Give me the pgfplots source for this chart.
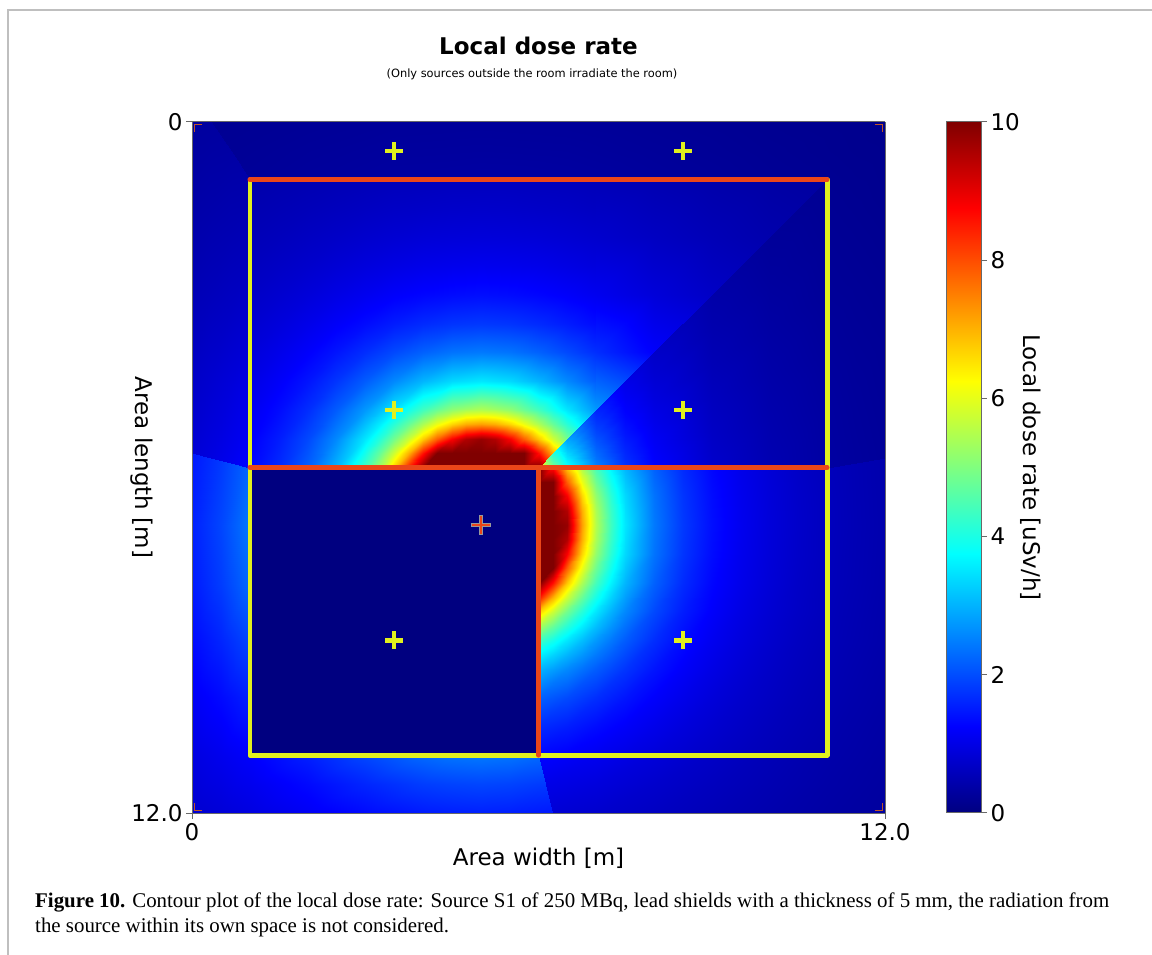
\documentclass[border=0pt]{standalone}
\usepackage{pgfplots}
\usepackage{fontspec}
\setmainfont{DejaVu Sans}
\newfontfamily\capfont{Liberation Serif}
\pgfplotsset{compat=1.18}
\definecolor{wallY}{RGB}{225,240,30}
\definecolor{wallR}{RGB}{235,70,25}
\definecolor{axgray}{RGB}{105,105,105}
\definecolor{cornerc}{RGB}{190,85,40}
\pgfplotsset{hm/.style={surf,shader=interp,point meta=explicit,mesh/cols=#1}}
\newcommand{\fs}{\fontsize{23}{27}\selectfont}
\begin{document}
\begin{tikzpicture}
\useasboundingbox (0,0) rectangle (1152pt,955pt);
\draw[black!25,line width=2pt] (8pt,0pt)--(8pt,945pt)--(1152pt,945pt);
\begin{axis}[at={(192pt,142pt)},anchor=south west,scale only axis,width=693pt,height=691pt,
 view={0}{90},y dir=reverse,xmin=0,xmax=12,ymin=0,ymax=12,zmin=-1,zmax=1,
 colormap/jet,point meta min=0,point meta max=10,axis on top,
 xtick={0,12},xticklabels={0,12.0},ytick={0,12},yticklabels={0,12.0},ztick=\empty,
 xtick pos=bottom,ytick pos=left,
 tick align=outside,major tick length=6pt,
 tick style={draw=axgray,line width=1pt},axis line style={draw=axgray,line width=1pt},
 tick label style={font=\fs},label style={font=\fs},
 xticklabel style={yshift=-1pt},
 title={\bfseries Local dose rate},title style={font=\fs,at={(0.5,1)},anchor=center,yshift=70pt},
 xlabel={Area width [m]},xlabel style={at={(0.5,0)},anchor=center,yshift=-45pt},
 ylabel={Area length [m]},ylabel style={at={(0,0.5)},anchor=center,rotate=180,yshift=-50pt},
]
% --- top room, one lead shield: fine part
\addplot3[hm=17] table[x index=0,y index=1,z expr=0,meta index=2]{
3 5 2.75
3.25 5 3.12
3.5 5 3.52
3.75 5 3.96
4 5 4.4
4.25 5 4.82
4.5 5 5.18
4.75 5 5.42
5 5 5.5
5.25 5 5.42
5.5 5 5.18
5.75 5 4.82
6 5 4.4
6.25 5 3.96
6.5 5 3.52
6.75 5 3.12
7 5 2.75
3 5.25 3.12
3.25 5.25 3.59
3.5 5.25 4.14
3.75 5.25 4.76
4 5.25 5.42
4.25 5.25 6.07
4.5 5.25 6.64
4.75 5.25 7.04
5 5.25 7.18
5.25 5.25 7.04
5.5 5.25 6.64
5.75 5.25 6.07
6 5.25 5.42
6.25 5.25 4.76
6.5 5.25 4.14
6.75 5.25 3.59
7 5.25 3.12
3 5.5 3.52
3.25 5.5 4.14
3.5 5.5 4.89
3.75 5.5 5.77
4 5.5 6.77
4.25 5.5 7.82
4.5 5.5 8.8
4.75 5.5 9.52
5 5.5 9.78
5.25 5.5 9.52
5.5 5.5 8.8
5.75 5.5 7.82
6 5.5 6.77
6.25 5.5 5.77
6.5 5.5 4.89
6.75 5.5 4.14
7 5.5 3.52
3 5.75 3.96
3.25 5.75 4.76
3.5 5.75 5.77
3.75 5.75 7.04
4 5.75 8.59
4.25 5.75 10
4.5 5.75 10
4.75 5.75 10
5 5.75 10
5.25 5.75 10
5.5 5.75 10
5.75 5.75 10
6 5.75 8.59
6.25 5.75 7.04
6.5 5.75 5.77
6.75 5.75 4.76
7 5.75 3.96
3 6 4.4
3.25 6 5.42
3.5 6 6.77
3.75 6 8.59
4 6 10
4.25 6 10
4.5 6 10
4.75 6 10
5 6 10
5.25 6 10
5.5 6 10
5.75 6 10
6 6 10
6.25 6 8.59
6.5 6 6.77
6.75 6 5.42
7 6 4.4
};
\addplot3[hm=5] table[x index=0,y index=1,z expr=0,meta index=2]{
1 5 1.1
1.5 5 1.35
2 5 1.69
2.5 5 2.15
3 5 2.75
1 5.5 1.21
1.5 5.5 1.52
2 5.5 1.96
2.5 5.5 2.59
3 5.5 3.52
1 6 1.29
1.5 6 1.66
2 6 2.2
2.5 6 3.03
3 6 4.4
};
\addplot3[hm=13] table[x index=0,y index=1,z expr=0,meta index=2]{
1 1 .42
1.5 1 .46
2 1 .49
2.5 1 .52
3 1 .55
3.5 1 .58
4 1 .59
4.5 1 .61
5 1 .61
5.5 1 .61
6 1 .59
6.5 1 .58
7 1 .55
1 1.5 .48
1.5 1.5 .52
2 1.5 .56
2.5 1.5 .6
3 1.5 .64
3.5 1.5 .68
4 1.5 .7
4.5 1.5 .72
5 1.5 .73
5.5 1.5 .72
6 1.5 .7
6.5 1.5 .68
7 1.5 .64
1 2 .54
1.5 2 .59
2 2 .65
2.5 2 .7
3 2 .76
3.5 2 .81
4 2 .85
4.5 2 .87
5 2 .88
5.5 2 .87
6 2 .85
6.5 2 .81
7 2 .76
1 2.5 .61
1.5 2.5 .68
2 2.5 .75
2.5 2.5 .83
3 2.5 .91
3.5 2.5 .98
4 2.5 1.04
4.5 2.5 1.07
5 2.5 1.09
5.5 2.5 1.07
6 2.5 1.04
6.5 2.5 .98
7 2.5 .91
1 3 .69
1.5 3 .78
2 3 .88
2.5 3 .99
3 3 1.1
3.5 3 1.21
4 3 1.29
4.5 3 1.35
5 3 1.38
5.5 3 1.35
6 3 1.29
6.5 3 1.21
7 3 1.1
1 3.5 .78
1.5 3.5 .9
2 3.5 1.04
2.5 3.5 1.19
3 3.5 1.35
3.5 3.5 1.52
4 3.5 1.66
4.5 3.5 1.76
5 3.5 1.8
5.5 3.5 1.76
6 3.5 1.66
6.5 3.5 1.52
7 3.5 1.35
1 4 .88
1.5 4 1.04
2 4 1.22
2.5 4 1.44
3 4 1.69
3.5 4 1.96
4 4 2.2
4.5 4 2.38
5 4 2.44
5.5 4 2.38
6 4 2.2
6.5 4 1.96
7 4 1.69
1 4.5 .99
1.5 4.5 1.19
2 4.5 1.44
2.5 4.5 1.76
3 4.5 2.15
3.5 4.5 2.59
4 4.5 3.03
4.5 4.5 3.38
5 4.5 3.52
5.5 4.5 3.38
6 4.5 3.03
6.5 4.5 2.59
7 4.5 2.15
1 5 1.1
1.5 5 1.35
2 5 1.69
2.5 5 2.15
3 5 2.75
3.5 5 3.52
4 5 4.4
4.5 5 5.18
5 5 5.5
5.5 5 5.18
6 5 4.4
6.5 5 3.52
7 5 2.75
};
\addplot3[hm=5] table[x index=0,y index=1,z expr=0,meta index=2]{
7 1 .55
8 1 .49
9 1 .42
10 1 .36
11 1 .31
7 2 .76
8 2 .65
9 2 .54
10 2 .44
11 2 .36
7 3 1.1
8 3 .88
9 3 .69
10 3 .54
11 3 .42
7 4 1.69
8 4 1.22
9 4 .88
10 4 .65
11 4 .49
7 5 2.75
8 5 1.69
9 5 1.1
10 5 .76
11 5 .55
};
% --- wedge behind two shields
\addplot3[hm=9] table[x index=0,y index=1,z expr=0,meta index=2]{
6 6 6.35
6.25 6 4.96
6.5 6 3.91
7 6 2.54
7.5 6 1.75
8 6 1.27
9 6 .75
10 6 .49
11 6 .34
6 6 6.35
6.25 5.95 4.77
6.5 5.9 3.67
7 5.8 2.33
7.5 5.7 1.6
8 5.6 1.16
9 5.4 .68
10 5.2 .45
11 5 .32
6 6 6.35
6.25 5.9 4.58
6.5 5.8 3.44
7 5.6 2.13
7.5 5.4 1.44
8 5.2 1.04
9 4.8 .61
10 4.4 .4
11 4 .28
6 6 6.35
6.25 5.85 4.41
6.5 5.7 3.22
7 5.4 1.94
7.5 5.1 1.29
8 4.8 .92
9 4.2 .53
10 3.6 .35
11 3 .24
6 6 6.35
6.25 5.8 4.23
6.5 5.6 3.02
7 5.2 1.75
7.5 4.8 1.15
8 4.4 .81
9 3.6 .46
10 2.8 .3
11 2 .21
6 6 6.35
6.25 5.75 4.07
6.5 5.5 2.82
7 5 1.59
7.5 4.5 1.02
8 4 .71
9 3 .4
10 2 .25
11 1 .18
};
% --- lower right room: fine part
\addplot3[hm=7] table[x index=0,y index=1,z expr=0,meta index=2]{
6 6 10
6.25 6 8.59
6.5 6 6.77
6.75 6 5.42
7 6 4.4
7.25 6 3.63
7.5 6 3.03
6 6.25 10
6.25 6.25 10
6.5 6.25 7.82
6.75 6.25 6.07
7 6.25 4.82
7.25 6.25 3.91
7.5 6.25 3.23
6 6.5 10
6.25 6.5 10
6.5 6.5 8.8
6.75 6.5 6.64
7 6.5 5.18
7.25 6.5 4.14
7.5 6.5 3.38
6 6.75 10
6.25 6.75 10
6.5 6.75 9.52
6.75 6.75 7.04
7 6.75 5.42
7.25 6.75 4.29
7.5 6.75 3.49
6 7 10
6.25 7 10
6.5 7 9.78
6.75 7 7.18
7 7 5.5
7.25 7 4.35
7.5 7 3.52
6 7.25 10
6.25 7.25 10
6.5 7.25 9.52
6.75 7.25 7.04
7 7.25 5.42
7.25 7.25 4.29
7.5 7.25 3.49
6 7.5 10
6.25 7.5 10
6.5 7.5 8.8
6.75 7.5 6.64
7 7.5 5.18
7.25 7.5 4.14
7.5 7.5 3.38
6 7.75 10
6.25 7.75 10
6.5 7.75 7.82
6.75 7.75 6.07
7 7.75 4.82
7.25 7.75 3.91
7.5 7.75 3.23
6 8 10
6.25 8 8.59
6.5 8 6.77
6.75 8 5.42
7 8 4.4
7.25 8 3.63
7.5 8 3.03
6 8.25 8.59
6.25 8.25 7.04
6.5 8.25 5.77
6.75 8.25 4.76
7 8.25 3.96
7.25 8.25 3.32
7.5 8.25 2.82
6 8.5 6.77
6.25 8.5 5.77
6.5 8.5 4.89
6.75 8.5 4.14
7 8.5 3.52
7.25 8.5 3.01
7.5 8.5 2.59
6 8.75 5.42
6.25 8.75 4.76
6.5 8.75 4.14
6.75 8.75 3.59
7 8.75 3.12
7.25 8.75 2.71
7.5 8.75 2.36
6 9 4.4
6.25 9 3.96
6.5 9 3.52
6.75 9 3.12
7 9 2.75
7.25 9 2.43
7.5 9 2.15
6 9.25 3.63
6.25 9.25 3.32
6.5 9.25 3.01
6.75 9.25 2.71
7 9.25 2.43
7.25 9.25 2.17
7.5 9.25 1.95
6 9.5 3.03
6.25 9.5 2.82
6.5 9.5 2.59
6.75 9.5 2.36
7 9.5 2.15
7.25 9.5 1.95
7.5 9.5 1.76
};
\addplot3[hm=8] table[x index=0,y index=1,z expr=0,meta index=2]{
7.5 6 3.03
8 6 2.2
8.5 6 1.66
9 6 1.29
9.5 6 1.04
10 6 .85
10.5 6 .7
11 6 .59
7.5 6.5 3.38
8 6.5 2.38
8.5 6.5 1.76
9 6.5 1.35
9.5 6.5 1.07
10 6.5 .87
10.5 6.5 .72
11 6.5 .61
7.5 7 3.52
8 7 2.44
8.5 7 1.8
9 7 1.38
9.5 7 1.09
10 7 .88
10.5 7 .73
11 7 .61
7.5 7.5 3.38
8 7.5 2.38
8.5 7.5 1.76
9 7.5 1.35
9.5 7.5 1.07
10 7.5 .87
10.5 7.5 .72
11 7.5 .61
7.5 8 3.03
8 8 2.2
8.5 8 1.66
9 8 1.29
9.5 8 1.04
10 8 .85
10.5 8 .7
11 8 .59
7.5 8.5 2.59
8 8.5 1.96
8.5 8.5 1.52
9 8.5 1.21
9.5 8.5 .98
10 8.5 .81
10.5 8.5 .68
11 8.5 .58
7.5 9 2.15
8 9 1.69
8.5 9 1.35
9 9 1.1
9.5 9 .91
10 9 .76
10.5 9 .64
11 9 .55
7.5 9.5 1.76
8 9.5 1.44
8.5 9.5 1.19
9 9.5 .99
9.5 9.5 .83
10 9.5 .7
10.5 9.5 .6
11 9.5 .52
7.5 10 1.44
8 10 1.22
8.5 10 1.04
9 10 .88
9.5 10 .75
10 10 .65
10.5 10 .56
11 10 .49
7.5 10.5 1.19
8 10.5 1.04
8.5 10.5 .9
9 10.5 .78
9.5 10.5 .68
10 10.5 .59
10.5 10.5 .52
11 10.5 .46
7.5 11 .99
8 11 .88
8.5 11 .78
9 11 .69
9.5 11 .61
10 11 .54
10.5 11 .48
11 11 .42
};
\addplot3[hm=4] table[x index=0,y index=1,z expr=0,meta index=2]{
6 9.5 3.03
6.5 9.5 2.59
7 9.5 2.15
7.5 9.5 1.76
6 10 2.2
6.5 10 1.96
7 10 1.69
7.5 10 1.44
6 10.5 1.66
6.5 10.5 1.52
7 10.5 1.35
7.5 10.5 1.19
6 11 1.29
6.5 11 1.21
7 11 1.1
7.5 11 .99
};
% --- outer band, left, through the unshielded wall of the source room
\addplot3[hm=3] table[x index=0,y index=1,z expr=0,meta index=2]{
0 5.75 1.47
.5 5.875 1.81
1 6 2.29
0 7 1.56
.5 7 1.93
1 7 2.44
0 8 1.5
.5 8 1.84
1 8 2.29
0 9 1.34
.5 9 1.61
1 9 1.95
0 10 1.15
.5 10 1.33
1 10 1.56
0 11 .95
.5 11 1.08
1 11 1.22
0 12 .78
.5 12 .86
1 12 .95
};
% --- outer band, bottom, unshielded
\addplot3[hm=8] table[x index=0,y index=1,z expr=0,meta index=2]{
1 11 1.22
2 11 1.56
3 11 1.95
4 11 2.29
4.5 11 2.4
5 11 2.44
5.5 11 2.4
6 11 2.29
1 11.5 1.08
2 11.5 1.33
3 11.5 1.61
4 11.5 1.84
4.5 11.5 1.9
5 11.5 1.93
5.5 11.5 1.9
6.125 11.5 1.81
1 12 .95
2 12 1.15
3 12 1.34
4 12 1.5
4.5 12 1.54
5 12 1.56
5.5 12 1.54
6.25 12 1.47
};
% --- outer band, bottom right, one shield
\addplot3[hm=7] table[x index=0,y index=1,z expr=0,meta index=2]{
6 11 1.29
7 11 1.1
8 11 .88
9 11 .69
10 11 .54
11 11 .42
12 11 .34
6.125 11.5 1.02
7 11.5 .91
8 11.5 .75
9 11.5 .61
10 11.5 .49
11 11.5 .39
12 11.5 .32
6.25 12 .83
7 12 .76
8 12 .65
9 12 .54
10 12 .44
11 12 .36
12 12 .3
};
% --- outer band, right, one shield
\addplot3[hm=3] table[x index=0,y index=1,z expr=0,meta index=2]{
11 6 .59
11.5 5.917 .51
12 5.833 .44
11 7 .61
11.5 7 .52
12 7 .45
11 8 .59
11.5 8 .51
12 8 .44
11 9 .55
11.5 9 .48
12 9 .42
11 10 .49
11.5 10 .43
12 10 .38
11 11 .42
11.5 11 .38
12 11 .34
};
% --- outer band, right, two shields
\addplot3[hm=3] table[x index=0,y index=1,z expr=0,meta index=2]{
11 1 .18
11.5 .5 .15
12 0 .13
11 2 .21
11.5 1.583 .18
12 1.167 .15
11 3 .24
11.5 2.667 .21
12 2.333 .18
11 4 .28
11.5 3.75 .24
12 3.5 .21
11 5 .32
11.5 4.833 .27
12 4.667 .23
11 6 .34
11.5 5.917 .29
12 5.833 .25
};
% --- outer band, top, two shields
\addplot3[hm=8] table[x index=0,y index=1,z expr=0,meta index=2]{
.333 0 .18
2 0 .22
3.5 0 .25
5 0 .26
6.5 0 .25
8 0 .22
10 0 .17
12 0 .13
.667 .5 .21
2 .5 .25
3.5 .5 .29
5 .5 .3
6.5 .5 .29
8 .5 .25
10 .5 .19
11.5 .5 .15
1 1 .24
2 1 .28
3.5 1 .33
5 1 .35
6.5 1 .33
8 1 .28
10 1 .21
11 1 .18
};
% --- outer band, left, one shield
\addplot3[hm=4] table[x index=0,y index=1,z expr=0,meta index=2]{
0 0 .3
.333 0 .31
.667 .5 .36
1 1 .42
0 1.4375 .39
.333 1.458 .42
.667 1.854 .49
1 2.25 .57
0 2.875 .52
.333 2.917 .57
.667 3.208 .66
1 3.5 .78
0 4.3125 .68
.333 4.375 .77
.667 4.563 .89
1 4.75 1.04
0 5.75 .83
.333 5.833 .95
.667 5.917 1.1
1 6 1.29
};
% --- source room: own source not counted
\addplot3[hm=2] table[x index=0,y index=1,z expr=0,meta index=2]{
1 6 0
6 6 0
1 11 0
6 11 0
};
% --- walls
\addplot3[wallY,line width=4.5pt,line cap=round,line join=round,no marks] coordinates {(1,1,0) (1,11,0) (11,11,0) (11,1,0)};
\addplot3[wallR,line width=4.5pt,line cap=round,no marks] coordinates {(1,1,0) (11,1,0)};
\addplot3[wallR,line width=4.5pt,line cap=round,no marks] coordinates {(1,6,0) (11,6,0)};
\addplot3[wallR,line width=4.5pt,line cap=round,no marks] coordinates {(6,6,0) (6,11,0)};
% --- calculation points
\addplot3[only marks,mark=+,mark size=9pt,mark options={draw=wallY,line width=4.5pt}] coordinates {(3.5,.5,0) (8.5,.5,0) (3.5,5,0) (8.5,5,0) (3.5,9,0) (8.5,9,0)};
\addplot3[only marks,mark=+,mark size=10pt,mark options={draw=black!40,line width=4.5pt}] coordinates {(5,7,0)};
\addplot3[only marks,mark=+,mark size=9pt,mark options={draw=wallR,line width=2.5pt}] coordinates {(5,7,0)};
% --- corner ticks
\addplot3[cornerc,line width=1.2pt,no marks] coordinates {(.18,.04,0) (.04,.04,0) (.04,.18,0)};
\addplot3[cornerc,line width=1.2pt,no marks] coordinates {(11.82,.04,0) (11.96,.04,0) (11.96,.18,0)};
\addplot3[cornerc,line width=1.2pt,no marks] coordinates {(.18,11.96,0) (.04,11.96,0) (.04,11.82,0)};
\addplot3[cornerc,line width=1.2pt,no marks] coordinates {(11.82,11.96,0) (11.96,11.96,0) (11.96,11.82,0)};
\end{axis}
% --- colour bar
\begin{axis}[at={(946pt,142pt)},anchor=south west,scale only axis,width=35pt,height=691pt,
 view={0}{90},xmin=0,xmax=1,ymin=0,ymax=10,zmin=-1,zmax=1,
 colormap/jet,point meta min=0,point meta max=10,axis on top,
 xtick=\empty,ztick=\empty,ytick={0,2,4,6,8,10},yticklabels={0,2,4,6,8,10},
 ytick pos=right,yticklabel pos=right,
 tick align=outside,major tick length=6pt,
 tick style={draw=axgray,line width=1pt},axis line style={draw=axgray,line width=1pt},
 tick label style={font=\fs},
 ylabel={Local dose rate [uSv/h]},
 ylabel style={font=\fs,at={(1,0.5)},anchor=center,rotate=180,yshift=50pt},
]
\addplot3[hm=2] table[x index=0,y index=1,z expr=0,meta index=2]{
0 0 0
1 0 0
0 10 10
1 10 10
};
\end{axis}
\node[font=\fontsize{11.4}{13}\selectfont,anchor=center] at (532pt,881pt) {(Only sources outside the room irradiate the room)};
\node[anchor=base west,inner sep=0pt,font=\capfont\fontsize{20.9}{24}\selectfont] at (35pt,47pt) {\textbf{Figure 10.} Contour plot of the local dose rate: Source S1 of 250 MBq, lead shields with a thickness of 5 mm, the radiation from};
\node[anchor=base west,inner sep=0pt,font=\capfont\fontsize{20.9}{24}\selectfont] at (35pt,22pt) {the source within its own space is not considered.};
\end{tikzpicture}
\end{document}
